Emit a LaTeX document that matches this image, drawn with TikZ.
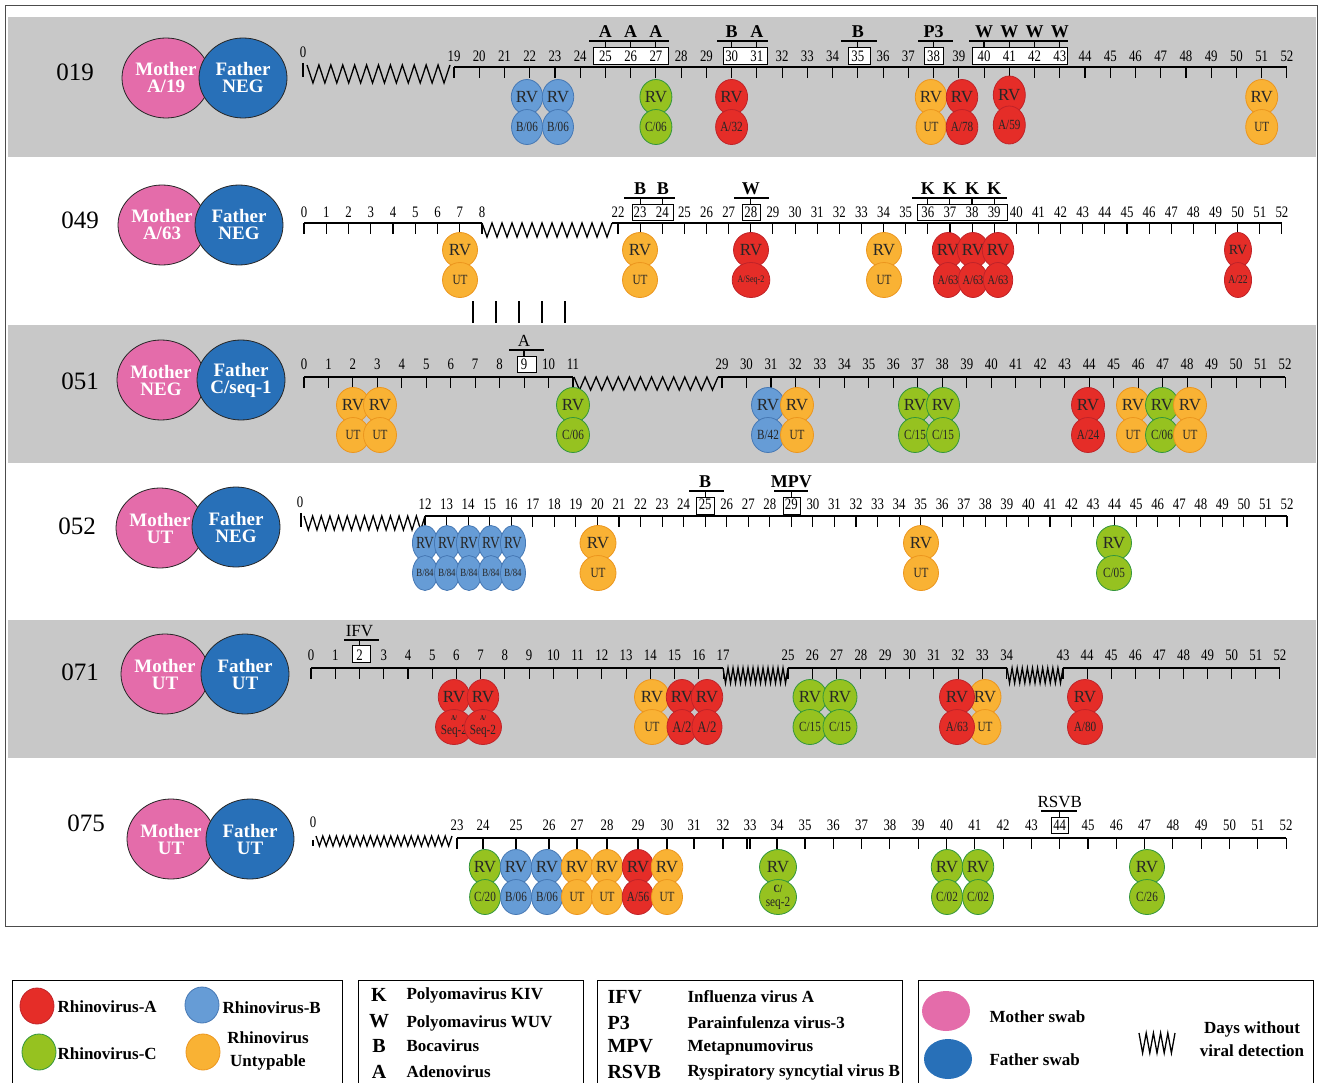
\documentclass[tikz,border=0pt]{standalone}
\usepackage{fontspec}
\setmainfont{Liberation Serif}
\newfontfamily\narrowfont{Liberation Serif}[FakeStretch=0.8]
\usetikzlibrary{shapes.geometric}

\definecolor{bandgray}{RGB}{200,200,200}
\definecolor{rvared}{RGB}{229,45,40}
\definecolor{rvaline}{RGB}{192,35,40}
\definecolor{rvbblue}{RGB}{102,156,214}
\definecolor{rvbline}{RGB}{70,120,180}
\definecolor{rvcgreen}{RGB}{150,194,32}
\definecolor{rvcline}{RGB}{50,150,60}
\definecolor{rvuorange}{RGB}{249,178,52}
\definecolor{rvuline}{RGB}{236,150,30}
\definecolor{mompink}{RGB}{228,108,170}
\definecolor{dadblue}{RGB}{40,112,184}

% axis piece: row, first day, last day, x of first day, step, axis y, number y
\newcommand{\axseg}[7]{
  \draw (#4,#6) -- ({#4+(#3-#2)*#5},#6);
  \foreach \d in {#2,...,#3} {
    \pgfmathsetmacro{\xx}{#4+(\d-#2)*#5}
    \draw (\xx,#6) -- (\xx,#6+11);
    \node[num] (n#1-\d) at (\xx,#7) {\d};
  }
}
% days without detection: x1, x2, y top, y bottom, number of teeth
\newcommand{\gapline}[5]{
  \pgfmathsetmacro{\zw}{(#2-#1)/#5}
  \draw[line width=1.3] (#1,#3) \foreach \i in {1,...,#5} { -- ({#1+(\i-0.5)*\zw},#4) -- ({#1+\i*\zw},#3) };
}
% co-detection tag: name, x, bar y, box y, style, label
\newcommand{\virtag}[6]{
  \draw (#2,#3) -- (#2,#4);
  \node[#5, anchor=south] (#1) at (#2,#3-3) {#6};
}
% rhinovirus sample: [options], name, x, y, style, type
\newcommand{\rvpair}[6][]{
  \node[#5,#1] (#2a) at (#3,#4) {RV};
  \node[#5,subl,#1] (#2b) at (#3,#4+30) {#6};
}

\begin{document}
\begin{tikzpicture}[x=1pt, y=-1pt, line width=1.1, every text node part/.style={align=center},
  num/.style={font=\narrowfont\fontsize{16}{16}\selectfont, inner sep=0},
  tagb/.style={font=\bfseries\fontsize{18}{18}\selectfont, inner sep=0},
  tagr/.style={font=\fontsize{17}{17}\selectfont, inner sep=0},
  rowlab/.style={font=\fontsize{25}{25}\selectfont, inner sep=0},
  parent/.style={ellipse, minimum width=88, minimum height=80, inner sep=0, draw=black!85, line width=0.8, text=white, font=\bfseries\fontsize{19}{17}\selectfont},
  mom/.style={parent, fill=mompink},
  dad/.style={parent, fill=dadblue},
  rv/.style={ellipse, minimum width=32, minimum height=35, inner sep=0, line width=0.8, text=black!85, font=\fontsize{17}{17}\selectfont},
  subl/.style={font=\narrowfont\fontsize{14}{14}\selectfont},
  rva/.style={rv, fill=rvared, draw=rvaline},
  rvb/.style={rv, fill=rvbblue, draw=rvbline},
  rvc/.style={rv, fill=rvcgreen, draw=rvcline},
  rvu/.style={rv, fill=rvuorange, draw=rvuline},
  legtext/.style={font=\bfseries\fontsize{17}{23}\selectfont, inner sep=0, anchor=west},
  legkey/.style={font=\bfseries\fontsize{20}{20}\selectfont, inner sep=0},
  band/.style={fill=bandgray, draw=none}]

\useasboundingbox (0,0) rectangle (1319,1083);
\fill[white] (0,0) rectangle (1319,1083);
\fill[band] (8,17) rectangle (1316,157);
\fill[band] (8,325) rectangle (1316,463);
\fill[band] (8,620) rectangle (1316,758);
\draw[black!70, line width=0.8] (5,5) rectangle (1317,926);

% 019
\node[rowlab] (r019) at (75,72) {019};
\node[mom] (m019) at (166,78) {Mother\\A/19};
\node[dad] (f019) at (243,78) {Father\\NEG};
\node[num] (n019-0) at (303,52) {0};
\draw (303,63) -- (303,77);
\gapline{307}{450}{65}{83}{12}
\foreach \a/\b in {593/668,723/767,848/870,924/943,972/1067} \draw[fill=white, line width=0.9] (\a,47) rectangle (\b,64);
\axseg{019}{19}{52}{454}{25.24}{67}{56}
\foreach \a/\b in {589/669,717/768,841/877,918/953,969/1068} \draw (\a,41) -- (\b,41);
\virtag{t019a}{605.4}{41}{47}{tagb}{A}
\virtag{t019b}{630.7}{41}{47}{tagb}{A}
\virtag{t019c}{655.9}{41}{47}{tagb}{A}
\virtag{t019d}{731.6}{41}{47}{tagb}{B}
\virtag{t019e}{756.9}{41}{47}{tagb}{A}
\virtag{t019f}{857.8}{41}{47}{tagb}{B}
\virtag{t019g}{933.6}{41}{47}{tagb}{P3}
\virtag{t019h}{984}{41}{47}{tagb}{W}
\virtag{t019i}{1009.3}{41}{47}{tagb}{W}
\virtag{t019j}{1034.5}{41}{47}{tagb}{W}
\virtag{t019k}{1059.8}{41}{47}{tagb}{W}
\rvpair[minimum width=31]{c019-22}{527}{97}{rvb}{B/06}
\rvpair[minimum width=31]{c019-23}{558}{97}{rvb}{B/06}
\rvpair{c019-27}{655.9}{97}{rvc}{C/06}
\rvpair{c019-30}{731.6}{97}{rva}{A/32}
\rvpair[minimum width=30]{c019-38}{931}{97}{rvu}{UT}
\rvpair[minimum width=30]{c019-39}{962}{97}{rva}{A/78}
\rvpair[minimum height=38]{c019-41}{1009.3}{95}{rva}{A/59}
\rvpair{c019-51}{1261.7}{97}{rvu}{UT}

% 049
\node[rowlab] (r049) at (80,220) {049};
\node[mom] (m049) at (162,225) {Mother\\A/63};
\node[dad] (f049) at (239,225) {Father\\NEG};
\foreach \a/\b in {632/673,742/760,917/1007} \draw[fill=white, line width=0.9] (\a,204) rectangle (\b,220);
\axseg{049}{0}{8}{304}{22.25}{223}{212}
\gapline{482}{612}{223}{237}{13}
\draw (612,223) -- (618,223);
\axseg{049}{22}{52}{618}{22.13}{223}{212}
\foreach \a/\b in {624/675,734/769,912/1007} \draw (\a,198) -- (\b,198);
\virtag{t049a}{640.1}{198}{204}{tagb}{B}
\virtag{t049b}{662.8}{198}{204}{tagb}{B}
\virtag{t049c}{750.8}{198}{204}{tagb}{W}
\virtag{t049d}{927.8}{198}{204}{tagb}{K}
\virtag{t049e}{949.9}{198}{204}{tagb}{K}
\virtag{t049f}{972}{198}{204}{tagb}{K}
\virtag{t049g}{994.2}{198}{204}{tagb}{K}
\rvpair[minimum width=35]{c049-7}{460}{250}{rvu}{UT}
\rvpair[minimum width=35]{c049-23}{640}{250}{rvu}{UT}
\rvpair[minimum width=35]{c049-28}{751}{250}{rva}{\fontsize{10}{10}\selectfont A/Seq-2}
\rvpair[minimum width=35]{c049-34}{884}{250}{rvu}{UT}
\rvpair[minimum width=29]{c049-37}{948}{250}{rva}{\fontsize{13}{13}\selectfont A/63}
\rvpair[minimum width=29]{c049-38}{973}{250}{rva}{\fontsize{13}{13}\selectfont A/63}
\rvpair[minimum width=29]{c049-39}{998}{250}{rva}{\fontsize{13}{13}\selectfont A/63}
\rvpair[minimum width=27, font=\fontsize{14}{14}\selectfont]{c049-50}{1238}{250}{rva}{\narrowfont\fontsize{12}{12}\selectfont A/22}
\foreach \xx in {473,496,519,542,565} \draw (\xx,301) -- (\xx,323);

% 051
\node[rowlab] (r051) at (80,381) {051};
\node[mom] (m051) at (161,380) {Mother\\NEG};
\node[dad] (f051) at (241,380) {Father\\C/seq-1};
\draw[fill=white, line width=0.9] (517,356) rectangle (536,372);
\axseg{051}{0}{11}{304}{24.45}{377}{364}
\gapline{574}{718}{377}{390}{13}
\draw (718,377) -- (722,377);
\axseg{051}{29}{52}{722}{24.48}{377}{364}
\draw (509,350) -- (544,350);
\virtag{t051a}{524}{350}{356}{tagr}{A}
\rvpair[minimum width=33]{c051-2}{353}{405}{rvu}{UT}
\rvpair[minimum width=33]{c051-3}{380}{405}{rvu}{UT}
\rvpair[minimum width=33]{c051-11}{573}{405}{rvc}{C/06}
\rvpair[minimum width=33]{c051-31}{768}{405}{rvb}{B/42}
\rvpair[minimum width=33]{c051-32}{797}{405}{rvu}{UT}
\rvpair[minimum width=33]{c051-37}{915}{405}{rvc}{C/15}
\rvpair[minimum width=33]{c051-38}{943}{405}{rvc}{C/15}
\rvpair[minimum width=33]{c051-44}{1088}{405}{rva}{A/24}
\rvpair[minimum width=33]{c051-46}{1133}{405}{rvu}{UT}
\rvpair[minimum width=33]{c051-47}{1162}{405}{rvc}{C/06}
\rvpair[minimum width=33]{c051-48}{1190}{405}{rvu}{UT}

% 052
\node[rowlab] (r052) at (77,526) {052};
\node[mom] (m052) at (160,528) {Mother\\UT};
\node[dad] (f052) at (236,527) {Father\\NEG};
\node[num] (n052-0) at (300,502) {0};
\draw (301,513) -- (301,527);
\gapline{304}{425}{516}{530}{14}
\foreach \a/\b in {696/714,783/800} \draw[fill=white, line width=0.9] (\a,497) rectangle (\b,514);
\axseg{052}{12}{52}{425}{21.55}{516}{504}
\foreach \a/\b in {689/724,774/808} \draw (\a,491) -- (\b,491);
\virtag{t052a}{705.2}{491}{497}{tagb}{B}
\virtag{t052b}{791.4}{491}{497}{tagb}{MPV}
\foreach \d/\xx in {12/425,13/447,14/469,15/491,16/513}
  \rvpair[minimum width=25, font=\narrowfont\fontsize{17}{17}\selectfont]{c052-\d}{\xx}{543}{rvb}{\fontsize{11}{11}\selectfont B/84};
\rvpair[minimum width=36]{c052-20}{598}{543}{rvu}{UT}
\rvpair[minimum width=35]{c052-35}{921}{543}{rvu}{UT}
\rvpair[minimum width=35]{c052-44}{1114}{543}{rvc}{C/05}

% 071
\node[rowlab] (r071) at (80,672) {071};
\node[mom] (m071) at (165,674) {Mother\\UT};
\node[dad] (f071) at (245,674) {Father\\UT};
\draw[fill=white, line width=0.9] (352,645) rectangle (370,662);
\axseg{071}{0}{17}{311}{24.24}{668}{655}
\gapline{723}{788}{668}{683}{13}
\axseg{071}{25}{34}{788}{24.3}{668}{655}
\gapline{1007}{1063}{668}{683}{11}
\axseg{071}{43}{52}{1063}{24.1}{668}{655}
\draw (344,640) -- (379,640);
\virtag{t071a}{359.5}{640}{645}{tagr}{IFV}
\rvpair[minimum width=29]{c071-6}{454}{697}{rva}{\bfseries\fontsize{7.5}{9}\selectfont A/\\Seq-2}
\rvpair[minimum width=29]{c071-7}{483}{697}{rva}{\bfseries\fontsize{7.5}{9}\selectfont A/\\Seq-2}
\rvpair[minimum width=35]{c071-14}{652}{697}{rvu}{UT}
\rvpair[minimum width=30]{c071-15}{682}{697}{rva}{\fontsize{16}{16}\selectfont A/2}
\rvpair[minimum width=30]{c071-16}{707}{697}{rva}{\fontsize{16}{16}\selectfont A/2}
\rvpair[minimum width=34]{c071-26}{810}{697}{rvc}{C/15}
\rvpair[minimum width=34]{c071-27}{840}{697}{rvc}{C/15}
\rvpair[minimum width=32]{c071-33}{985}{697}{rvu}{UT}
\rvpair[minimum width=35]{c071-32}{957}{697}{rva}{A/63}
\rvpair[minimum width=35]{c071-44}{1085}{697}{rva}{A/80}

% 075
\node[rowlab] (r075) at (86,823) {075};
\node[mom] (m075) at (171,839) {Mother\\UT};
\node[dad] (f075) at (250,839) {Father\\UT};
\node[num] (n075-0) at (313,822) {0};
\draw (313,840) -- (313,846);
\gapline{316}{452}{836}{846}{20}
\draw[fill=white, line width=0.9] (1051,817) rectangle (1068,833);
\draw (457,838) -- (805,838);
\foreach \d/\xx in {23/457,24/483,25/516,26/549,27/577,28/607,29/638,30/667,31/694,32/723,33/750,34/777} {
  \draw (\xx,838) -- (\xx,849);
  \node[num] (n075-\d) at (\xx,825) {\d};
}
\draw (747,838) -- (747,849);
\axseg{075}{35}{52}{805}{28.3}{838}{825}
\draw (1041,811) -- (1077,811);
\virtag{t075a}{1059.7}{811}{817}{tagr}{RSVB}
\rvpair[minimum width=30]{c075-24}{485}{867}{rvc}{C/20}
\rvpair[minimum width=31]{c075-25}{516}{867}{rvb}{B/06}
\rvpair[minimum width=31]{c075-26}{547}{867}{rvb}{B/06}
\rvpair[minimum width=31]{c075-27}{577}{867}{rvu}{UT}
\rvpair[minimum width=31]{c075-28}{607}{867}{rvu}{UT}
\rvpair[minimum width=31]{c075-29}{638}{867}{rva}{A/56}
\rvpair[minimum width=31]{c075-30}{667}{867}{rvu}{UT}
\rvpair[minimum width=37]{c075-34}{778}{867}{rvc}{\bfseries\fontsize{11}{12}\selectfont C/\\seq-2}
\rvpair[minimum width=31]{c075-40}{947}{867}{rvc}{C/02}
\rvpair[minimum width=31]{c075-41}{978}{867}{rvc}{C/02}
\rvpair[minimum width=35]{c075-47}{1147}{867}{rvc}{C/26}

% legend
\draw[line width=0.8] (12,1084) |- (342,980) -- (342,1084);
\draw[line width=0.8] (358,1084) |- (583,980) -- (583,1084);
\draw[line width=0.8] (597,1084) |- (902,980) -- (902,1084);
\draw[line width=0.8] (918,1084) |- (1313,980) -- (1313,1084);
\node[rva, minimum width=34, minimum height=36] (kA) at (37,1006) {};
\node[legtext] (tA) at (57,1007) {Rhinovirus-A};
\node[rvb, minimum width=34, minimum height=36] (kB) at (202,1005) {};
\node[legtext] (tB) at (222,1008) {Rhinovirus-B};
\node[rvc, minimum width=34, minimum height=36] (kC) at (39,1052) {};
\node[legtext] (tC) at (57,1054) {Rhinovirus-C};
\node[rvu, minimum width=34, minimum height=36] (kU) at (203,1052) {};
\node[legtext, anchor=center] (tU) at (268,1051) {Rhinovirus\\Untypable};
\node[legkey] (kK) at (379,995) {K};
\node[legtext] (tK) at (406,995) {Polyomavirus KIV};
\node[legkey] (kW) at (379,1021) {W};
\node[legtext] (tW) at (406,1023) {Polyomavirus WUV};
\node[legkey] (kBo) at (379,1046) {B};
\node[legtext] (tBo) at (406,1046) {Bocavirus};
\node[legkey] (kAd) at (379,1072) {A};
\node[legtext] (tAd) at (406,1072) {Adenovirus};
\node[legkey, anchor=west] (kIFV) at (607,997) {IFV};
\node[legtext] (tIFV) at (687,997) {Influenza virus A};
\node[legkey, anchor=west] (kP3) at (607,1023) {P3};
\node[legtext] (tP3) at (687,1023) {Parainfulenza virus-3};
\node[legkey, anchor=west] (kMPV) at (607,1046) {MPV};
\node[legtext] (tMPV) at (687,1047) {Metapnumovirus};
\node[legkey, anchor=west] (kRSVB) at (607,1072) {RSVB};
\node[legtext] (tRSVB) at (687,1072) {Ryspiratory syncytial virus B};
\node[mom, minimum width=48, minimum height=40, draw=none] (kM) at (946,1011) {};
\node[legtext] (tM) at (989,1017) {Mother swab};
\node[dad, minimum width=48, minimum height=40, draw=none] (kF) at (948,1059) {};
\node[legtext] (tF) at (989,1060) {Father swab};
\gapline{1139}{1175}{1033}{1053}{5}
\node[legtext, anchor=center] (tGap) at (1252,1039) {Days without\\viral detection};
\end{tikzpicture}
\end{document}
